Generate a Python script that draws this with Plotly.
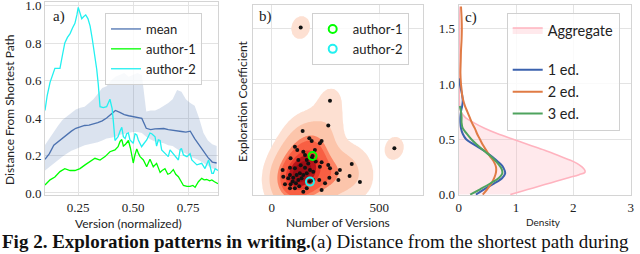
import numpy as np
import plotly.graph_objects as go

# ---------------- Panel a data ----------------
version_x = [0.10, 0.12, 0.14, 0.16, 0.18, 0.20, 0.22, 0.24, 0.26, 0.28,
             0.30, 0.32, 0.34, 0.36, 0.38, 0.40, 0.42, 0.44, 0.46, 0.48,
             0.50, 0.52, 0.54, 0.56, 0.58, 0.60, 0.62, 0.64, 0.66, 0.68,
             0.70, 0.72, 0.74, 0.76, 0.78, 0.80, 0.82, 0.84, 0.86, 0.88]
mean_dist = [0.18, 0.21, 0.255, 0.275, 0.29, 0.31, 0.33, 0.345, 0.352, 0.36,
             0.362, 0.368, 0.375, 0.385, 0.40, 0.42, 0.44, 0.43, 0.418, 0.412,
             0.408, 0.405, 0.398, 0.345, 0.338, 0.342, 0.345, 0.344, 0.338, 0.336,
             0.33, 0.328, 0.325, 0.33, 0.29, 0.255, 0.22, 0.19, 0.165, 0.16]
band_upper = [0.256, 0.29, 0.33, 0.36, 0.39, 0.41, 0.43, 0.445, 0.455, 0.46,
              0.48, 0.50, 0.53, 0.56, 0.57, 0.60, 0.62, 0.63, 0.64, 0.62,
              0.63, 0.64, 0.63, 0.435, 0.44, 0.44, 0.45, 0.465, 0.48, 0.50,
              0.55, 0.54, 0.50, 0.48, 0.465, 0.40, 0.32, 0.28, 0.26, 0.25]
band_lower = [0.12, 0.14, 0.16, 0.18, 0.195, 0.21, 0.225, 0.235, 0.245, 0.255,
              0.26, 0.265, 0.27, 0.28, 0.29, 0.295, 0.30, 0.31, 0.315, 0.32,
              0.325, 0.325, 0.32, 0.30, 0.285, 0.275, 0.27, 0.265, 0.255, 0.25,
              0.235, 0.22, 0.21, 0.195, 0.185, 0.175, 0.16, 0.145, 0.13, 0.125]

author1_x = [0.100, 0.123, 0.145, 0.168, 0.190, 0.214, 0.236, 0.259, 0.282, 0.305,
             0.327, 0.350, 0.373, 0.395, 0.418, 0.432, 0.441, 0.449, 0.456, 0.466,
             0.479, 0.488, 0.494, 0.501, 0.508, 0.517, 0.525, 0.532, 0.547, 0.562,
             0.577, 0.592, 0.607, 0.623, 0.632, 0.645, 0.658, 0.668, 0.683, 0.694,
             0.706, 0.718, 0.729, 0.745, 0.759, 0.772, 0.782, 0.797, 0.812, 0.823,
             0.835, 0.848, 0.858, 0.870, 0.886]
author1_y = [0.043, 0.07, 0.085, 0.114, 0.13, 0.12, 0.12, 0.13, 0.15, 0.167,
             0.185, 0.176, 0.194, 0.22, 0.23, 0.247, 0.275, 0.285, 0.25, 0.26,
             0.28, 0.24, 0.20, 0.16, 0.20, 0.235, 0.21, 0.194, 0.176, 0.14,
             0.18, 0.14, 0.158, 0.11, 0.12, 0.13, 0.10, 0.105, 0.125, 0.10,
             0.087, 0.06, 0.04, 0.035, 0.035, 0.04, 0.03, 0.06, 0.078, 0.07,
             0.072, 0.065, 0.07, 0.06, 0.05]

author2_x = [0.100, 0.110, 0.123, 0.135, 0.145, 0.158, 0.168, 0.180, 0.190, 0.202,
             0.214, 0.225, 0.236, 0.245, 0.251, 0.259, 0.267, 0.275, 0.285, 0.295,
             0.305, 0.315, 0.327, 0.335, 0.342, 0.350, 0.365, 0.380, 0.395, 0.405,
             0.410, 0.418, 0.425, 0.432, 0.441, 0.449, 0.456, 0.464, 0.471, 0.479,
             0.486, 0.494, 0.501, 0.509, 0.517, 0.524, 0.532, 0.539, 0.547, 0.562,
             0.577, 0.585, 0.600, 0.607, 0.615, 0.623, 0.630, 0.645, 0.660, 0.668,
             0.683, 0.691, 0.706, 0.714, 0.720, 0.729, 0.745, 0.759, 0.767, 0.790,
             0.805, 0.812, 0.827, 0.843, 0.858, 0.865, 0.873, 0.886]
author2_y = [0.44, 0.52, 0.59, 0.63, 0.665, 0.665, 0.665, 0.74, 0.80, 0.83,
             0.85, 0.88, 0.905, 0.95, 0.99, 0.96, 0.93, 0.94, 0.95, 0.93,
             0.89, 0.82, 0.73, 0.66, 0.58, 0.46, 0.455, 0.46, 0.50, 0.45,
             0.39, 0.28, 0.29, 0.30, 0.33, 0.35, 0.30, 0.29, 0.316, 0.32,
             0.283, 0.27, 0.265, 0.316, 0.31, 0.283, 0.265, 0.247, 0.26, 0.283,
             0.32, 0.316, 0.30, 0.25, 0.283, 0.28, 0.23, 0.21, 0.194, 0.23,
             0.21, 0.194, 0.176, 0.23, 0.238, 0.203, 0.194, 0.21, 0.176, 0.15,
             0.158, 0.158, 0.13, 0.176, 0.105, 0.105, 0.13, 0.12]

# ---------------- Panel b data ----------------
num_versions = [144, 263, 175, 186, 232, 224, 108, 119, 201, 147,
                88, 124, 163, 186, 232, 224, 263, 271, 51, 85,
                108, 155, 178, 131, 116, 147, 163, 193, 317, 302,
                54, 77, 100, 139, 98, 88, 113, 124, 62, 221,
                268, 248, 310, 85, 108, 147, 232, 193, 163, 271,
                570, 135, 372, 362, 410, 155, 85, 135, 170, 128,
                205, 190, 178]
expl_coef = [0.575, 0.625, 0.509, 0.485, 0.485, 0.464, 0.433, 0.403, 0.403, 0.388,
             0.328, 0.313, 0.313, 0.328, 0.292, 0.252, 0.268, 0.238, 0.222, 0.243,
             0.238, 0.243, 0.222, 0.192, 0.177, 0.177, 0.192, 0.207, 0.222, 0.192,
             0.162, 0.147, 0.153, 0.147, 0.117, 0.093, 0.102, 0.132, 0.093, 0.132,
             0.153, 0.102, 0.132, 0.057, 0.057, 0.026, 0.042, 0.132, 0.057, 0.849,
             0.419, 1.51, 0.277, 0.168, 0.114, 0.358, 0.177, 0.265, 0.28, 0.075,
             0.30, 0.349, 0.117]
author1_pt = ([190], [0.349])
author2_pt = ([178], [0.117])

# ---------------- Panel c data ----------------
agg_y = [0.00, 0.03, 0.06, 0.09, 0.12, 0.15, 0.18, 0.20, 0.22, 0.25,
         0.28, 0.31, 0.35, 0.40, 0.45, 0.50, 0.55, 0.60, 0.65, 0.70,
         0.75, 0.80, 0.90, 1.00, 1.20, 1.40, 1.50, 1.60, 1.70]
agg_d = [0.90, 1.10, 1.30, 1.50, 1.70, 1.90, 2.10, 2.20, 2.20, 2.15,
         2.07, 1.95, 1.75, 1.50, 1.22, 0.95, 0.68, 0.45, 0.26, 0.11,
         0.04, 0.02, 0.01, 0.01, 0.005, 0.01, 0.015, 0.01, 0.005]
ed1_y = [0.00, 0.05, 0.10, 0.15, 0.19, 0.22, 0.26, 0.30, 0.34, 0.38,
         0.42, 0.46, 0.50, 0.55, 0.60, 0.65, 0.70, 0.75, 0.80, 0.85,
         0.90, 0.95, 1.00, 1.05]
ed1_d = [0.30, 0.45, 0.62, 0.76, 0.81, 0.80, 0.76, 0.68, 0.59, 0.49,
         0.37, 0.24, 0.13, 0.07, 0.04, 0.03, 0.03, 0.04, 0.06, 0.07,
         0.06, 0.04, 0.02, 0.005]
ed2_y = [0.00, 0.05, 0.10, 0.15, 0.20, 0.25, 0.30, 0.35, 0.40, 0.45,
         0.50, 0.55, 0.60, 0.65, 0.70, 0.75, 0.80, 0.85, 0.90, 0.95,
         1.00, 1.10, 1.20, 1.30, 1.40, 1.50, 1.60, 1.70]
ed2_d = [0.42, 0.50, 0.57, 0.62, 0.65, 0.65, 0.61, 0.54, 0.48, 0.42,
         0.37, 0.32, 0.28, 0.23, 0.19, 0.15, 0.11, 0.08, 0.06, 0.05,
         0.04, 0.03, 0.035, 0.04, 0.05, 0.055, 0.05, 0.04]
ed3_y = [0.00, 0.05, 0.10, 0.15, 0.19, 0.23, 0.27, 0.31, 0.35, 0.40,
         0.45, 0.50, 0.55, 0.60, 0.65, 0.70, 0.75, 0.80]
ed3_d = [0.20, 0.38, 0.55, 0.70, 0.76, 0.75, 0.70, 0.63, 0.55, 0.43,
         0.32, 0.22, 0.14, 0.07, 0.05, 0.05, 0.04, 0.02]

# tick labels
a_xticks = [0.25, 0.50, 0.75]
a_yticks = [0.0, 0.2, 0.4, 0.6, 0.8, 1.0]
b_xticks = [0, 500]
bc_yticks = [0.0, 0.5, 1.0, 1.5]
c_xticks = [0, 1, 2, 3]

SANS = "Lato"
SERIF = "Liberation Serif"
W, H = 640, 254


def px(x):
    return x / W


def py(y):
    return 1 - y / H


fig = go.Figure()

# ---- panel a ----
fig.add_trace(go.Scatter(x=version_x, y=band_upper, mode="lines", line=dict(width=0),
                         showlegend=False, hoverinfo="skip", xaxis="x", yaxis="y"))
fig.add_trace(go.Scatter(x=version_x, y=band_lower, mode="lines", line=dict(width=0),
                         fill="tonexty", fillcolor="rgba(76,114,176,0.2)",
                         showlegend=False, hoverinfo="skip", xaxis="x", yaxis="y"))
fig.add_trace(go.Scatter(x=version_x, y=mean_dist, mode="lines", name="mean",
                         line=dict(color="#4C72B0", width=1.3), xaxis="x", yaxis="y",
                         legend="legend"))
fig.add_trace(go.Scatter(x=author1_x, y=author1_y, mode="lines", name="author-1",
                         line=dict(color="#00FF00", width=1.3), xaxis="x", yaxis="y",
                         legend="legend"))
fig.add_trace(go.Scatter(x=author2_x, y=author2_y, mode="lines", name="author-2",
                         line=dict(color="#22F0F0", width=1.3), xaxis="x", yaxis="y",
                         legend="legend"))

# ---- panel b: KDE (Gaussian, Scott bandwidth, iso-proportion levels) ----
X = np.array(num_versions, float)
Y = np.array(expl_coef, float)
data = np.vstack([X, Y])
n = data.shape[1]
factor = 1.1 * n ** (-1.0 / 6.0)
cov = np.cov(data) * factor ** 2
inv = np.linalg.inv(cov)
norm = 1.0 / (2 * np.pi * np.sqrt(np.linalg.det(cov)) * n)
bw = np.sqrt(np.diag(cov))
gx = np.linspace(X.min() - 3 * bw[0], X.max() + 3 * bw[0], 200)
gy = np.linspace(Y.min() - 3 * bw[1], Y.max() + 3 * bw[1], 200)
GX, GY = np.meshgrid(gx, gy)
dx = GX[..., None] - X
dy = GY[..., None] - Y
q = inv[0, 0] * dx * dx + 2 * inv[0, 1] * dx * dy + inv[1, 1] * dy * dy
dens = np.exp(-0.5 * q).sum(-1) * norm

isoprop = np.linspace(0.05, 1, 10)
vals = np.sort(dens.ravel())[::-1]
cum = np.cumsum(vals) / vals.sum()
idx = np.searchsorted(cum, 1 - isoprop)
levels = np.take(vals, idx, mode="clip")
zp = np.where(dens < levels[0], dens / levels[0] - 1,
              np.interp(dens, levels, np.arange(10)))

band_cols = ["#fde0d2", "#fcc5ab", "#fca487", "#fc8363", "#f85f43",
             "#ea3c2d", "#d42421", "#b81419", "#9c0d14"]
cs = [[0.0, "rgba(255,255,255,0)"], [0.1, "rgba(255,255,255,0)"]]
for k, c in enumerate(band_cols):
    cs.append([0.1 * (k + 1), c])
    cs.append([0.1 * (k + 2), c])

fig.add_trace(go.Contour(x=gx, y=gy, z=zp, xaxis="x2", yaxis="y2",
                         autocontour=False,
                         contours=dict(start=0, end=9, size=1, coloring="fill",
                                       showlines=False),
                         colorscale=cs, showscale=False, line=dict(width=0),
                         hoverinfo="skip", showlegend=False))
fig.add_trace(go.Scatter(x=num_versions, y=expl_coef, mode="markers",
                         marker=dict(color="#111111", size=4), showlegend=False,
                         xaxis="x2", yaxis="y2", hoverinfo="skip"))
fig.add_trace(go.Scatter(x=author1_pt[0], y=author1_pt[1], mode="markers", name="author-1",
                         marker=dict(symbol="circle-open", color="#00FF00", size=8,
                                     line=dict(width=2)),
                         xaxis="x2", yaxis="y2", legend="legend2"))
fig.add_trace(go.Scatter(x=author2_pt[0], y=author2_pt[1], mode="markers", name="author-2",
                         marker=dict(symbol="circle-open", color="#22F0F0", size=8,
                                     line=dict(width=2)),
                         xaxis="x2", yaxis="y2", legend="legend2"))

# ---- panel c ----
fig.add_trace(go.Scatter(x=agg_d, y=agg_y, mode="lines", name="Aggregate",
                         fill="tozerox", fillcolor="rgba(255,182,193,0.3)",
                         line=dict(color="#FFB3BF", width=1.6, shape="spline"),
                         xaxis="x3", yaxis="y3", legend="legend3", legendgroup="agg"))
fig.add_trace(go.Scatter(x=ed1_d, y=ed1_y, mode="lines", name="1 ed.",
                         line=dict(color="#3B62AE", width=2, shape="spline"),
                         xaxis="x3", yaxis="y3", legend="legend3", legendgroup="ed"))
fig.add_trace(go.Scatter(x=ed2_d, y=ed2_y, mode="lines", name="2 ed.",
                         line=dict(color="#E07B45", width=2, shape="spline"),
                         xaxis="x3", yaxis="y3", legend="legend3", legendgroup="ed"))
fig.add_trace(go.Scatter(x=ed3_d, y=ed3_y, mode="lines", name="3 ed.",
                         line=dict(color="#4FA35E", width=2, shape="spline"),
                         xaxis="x3", yaxis="y3", legend="legend3", legendgroup="ed"))


def axis(**kw):
    d = dict(showgrid=True, gridcolor="#e3e3e3", gridwidth=1, zeroline=False,
             showline=True, linecolor="#d4d4d4", linewidth=1, mirror=True,
             ticks="", automargin=False, ticklabeloverflow="allow",
             tickfont=dict(family=SERIF, size=13, color="#222"))
    d.update(kw)
    return d


def legend_style(size):
    return dict(xanchor="left", yanchor="top", bgcolor="rgba(255,255,255,0.8)",
                bordercolor="#d0d0d0", borderwidth=1,
                font=dict(family=SANS, size=size, color="#222"))


fig.update_layout(
    width=W, height=H, margin=dict(l=0, r=0, t=0, b=0, autoexpand=False),
    plot_bgcolor="white", paper_bgcolor="white",
    xaxis=axis(domain=[px(45), px(218)], range=[0.1, 0.886], anchor="y",
               tickvals=a_xticks, ticktext=[f"{v:.2f}" for v in a_xticks]),
    yaxis=axis(domain=[py(195), py(2)], range=[-0.0107, 1.0187], anchor="x",
               tickvals=a_yticks, ticktext=[f"{v:.1f}" for v in a_yticks]),
    xaxis2=axis(domain=[px(252.7), px(423)], range=[-88, 703], anchor="y2",
                tickvals=b_xticks, ticktext=[str(v) for v in b_xticks]),
    yaxis2=axis(domain=[py(195), py(5)], range=[-0.004, 1.714], anchor="x2",
                tickvals=bc_yticks, showticklabels=False),
    xaxis3=axis(domain=[px(458.7), px(630.7)], range=[0, 3], anchor="y3",
                tickvals=c_xticks, ticktext=[str(v) for v in c_xticks]),
    yaxis3=axis(domain=[py(195), py(5)], range=[-0.004, 1.714], anchor="x3",
                tickvals=bc_yticks, ticktext=[f"{v:.1f}" for v in bc_yticks]),
    legend=dict(x=px(105), y=py(13), traceorder="normal", **legend_style(13)),
    legend2=dict(x=px(311.7), y=py(13), traceorder="normal", **legend_style(13)),
    legend3=dict(x=px(506.7), y=py(13), traceorder="grouped", tracegroupgap=18,
                 **legend_style(14.5)),
)

annos = [
    dict(text="a)", x=px(59), y=py(17), font=dict(family=SERIF, size=15, color="#222")),
    dict(text="b)", x=px(265), y=py(17), font=dict(family=SERIF, size=15, color="#222")),
    dict(text="c)", x=px(471), y=py(18), font=dict(family=SERIF, size=15, color="#222")),
    dict(text="Distance From Shortest Path", x=px(9), y=py(110), textangle=-90,
         font=dict(family=SANS, size=12, color="#222")),
    dict(text="Exploration Coefficient", x=px(243), y=py(101), textangle=-90,
         font=dict(family=SANS, size=12, color="#222")),
    dict(text="Version (normalized)", x=px(128), y=py(223),
         font=dict(family=SANS, size=12, color="#222")),
    dict(text="Number of Versions", x=px(338), y=py(222),
         font=dict(family=SANS, size=12, color="#222")),
    dict(text="Density", x=px(543), y=py(222),
         font=dict(family=SANS, size=10, color="#222")),
]
for a in annos:
    fig.add_annotation(xref="paper", yref="paper", showarrow=False,
                       xanchor="center", yanchor="middle", **a)

fig.add_annotation(xref="paper", yref="paper", showarrow=False, xanchor="left",
                   yanchor="middle", x=0, y=py(242),
                   text="<b>Fig 2. Exploration patterns in writing.</b>(a) Distance from the shortest path during",
                   font=dict(family=SERIF, size=19, color="#111"))

fig.write_html("out.html", config={"displayModeBar": False},
               post_script="document.body.style.margin='0';document.body.style.overflow='hidden';")
